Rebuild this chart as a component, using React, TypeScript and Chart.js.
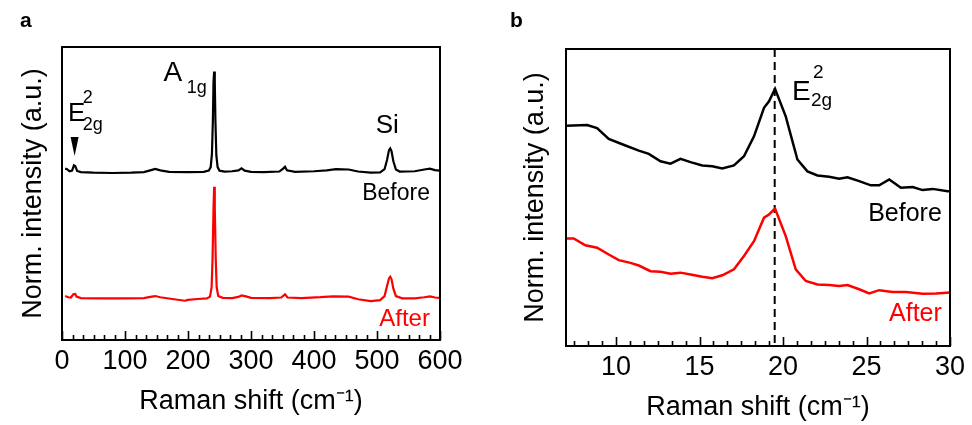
import React, { useEffect, useRef } from "react";
import { Chart, registerables } from "chart.js";

Chart.register(...registerables);

const FONT = "'Liberation Sans', Arial, Helvetica, sans-serif";
const RED = "#ff0000";

// ---------- Panel a (0–600 cm-1) ----------
const shiftBeforeA = [5, 8, 12, 16, 19, 21, 24, 30, 50, 80, 110, 130, 140, 148, 156, 170, 200, 225, 233, 236, 238, 239.5, 240.5, 241.5, 242.5, 243.5, 245, 247, 250, 258, 270, 280, 285, 290, 300, 320, 345, 351, 354, 357, 370, 400, 420, 435, 455, 470, 490, 505, 512, 516, 519, 521, 523, 526, 530, 536, 560, 575, 584, 592, 600];
const intensityBeforeA = [58.5, 58.3, 57.6, 57.8, 59.6, 59.4, 57.7, 57.3, 57.1, 57.0, 57.1, 57.3, 57.9, 58.4, 57.9, 57.4, 57.3, 57.4, 57.8, 59.0, 63.5, 75, 88, 91.6, 88, 75, 63, 59, 57.8, 57.5, 57.6, 57.9, 58.6, 57.8, 57.4, 57.3, 57.5, 58.5, 59.1, 57.9, 57.4, 57.6, 57.9, 58.3, 58.2, 57.5, 57.1, 57.2, 58.3, 61.5, 64.8, 65.4, 64.5, 61, 58.2, 57.5, 57.6, 58.2, 58.5, 58.0, 57.8];

const shiftAfterA = [5, 10, 14, 18, 21, 23, 30, 60, 100, 130, 140, 148, 156, 175, 195, 200, 215, 230, 235, 237.5, 239, 240.5, 241.5, 242.5, 244, 245.5, 248, 255, 270, 280, 285, 292, 300, 330, 348, 354, 358, 380, 410, 430, 455, 470, 490, 505, 512, 516, 519, 521, 523, 526, 530, 540, 560, 575, 584, 592, 600];
const intensityAfterA = [15.0, 14.6, 14.5, 15.6, 15.7, 14.8, 14.3, 14.2, 14.2, 14.3, 14.7, 15.0, 14.6, 14.0, 13.4, 13.7, 14.0, 14.2, 14.8, 18, 28, 45, 52.3, 45, 28, 18, 15.0, 14.4, 14.3, 14.7, 15.2, 14.9, 14.4, 14.3, 14.5, 15.6, 14.5, 14.3, 14.6, 14.9, 14.8, 13.9, 13.3, 13.6, 15, 18.5, 21, 21.6, 20.8, 17.5, 15.0, 14.2, 14.2, 14.6, 14.9, 14.5, 14.4];

const ticksA = [0, 100, 200, 300, 400, 500, 600];

// ---------- Panel b (7–30 cm-1) ----------
const shiftBeforeB = [7.0, 8.26, 8.86, 9.56, 10.56, 11.36, 11.96, 12.66, 13.26, 13.86, 14.46, 15.16, 15.76, 16.36, 17.06, 17.66, 18.26, 18.86, 19.16, 19.52, 20.16, 20.86, 21.46, 22.06, 22.76, 23.36, 23.86, 24.56, 25.26, 25.76, 26.36, 27.06, 27.76, 28.36, 28.96, 29.86, 30];
const intensityBeforeB = [74.2, 74.4, 73.4, 69.7, 67.5, 65.8, 64.7, 62.2, 61.4, 63.0, 61.9, 60.8, 60.5, 59.8, 60.8, 63.9, 70.6, 80.2, 82.4, 86.6, 77.3, 62.8, 58.8, 57.4, 57.0, 56.3, 56.8, 55.5, 54.1, 54.1, 56.1, 53.3, 53.5, 52.5, 52.9, 52.1, 52.1];

const shiftAfterB = [7.0, 7.46, 8.16, 8.86, 9.56, 10.16, 10.86, 11.36, 12.06, 12.66, 13.26, 13.86, 14.46, 15.16, 15.76, 16.36, 17.06, 17.66, 18.26, 18.86, 19.16, 19.52, 20.16, 20.76, 21.36, 22.06, 22.76, 23.36, 23.86, 24.56, 25.16, 25.76, 26.56, 27.36, 28.36, 29.16, 30];
const intensityAfterB = [36.2, 36.2, 33.9, 33.1, 30.8, 28.9, 28.0, 27.1, 25.2, 25.0, 24.3, 24.7, 24.1, 23.3, 22.8, 23.8, 25.8, 30.3, 35.3, 43.2, 44.3, 46.3, 37.0, 25.8, 21.9, 20.7, 20.5, 20.2, 20.5, 19.1, 17.7, 18.8, 18.2, 18.2, 17.6, 17.7, 18.0];

const ticksB = [10, 15, 20, 25, 30];
const peakB = 19.5;

const xTitle = "Raman shift (cm\u207B\u00B9)";
const yTitle = "Norm. intensity (a.u.)";

const toXY = (xs: number[], ys: number[]) => xs.map((x, i) => ({ x, y: ys[i] }));

function text(ctx: CanvasRenderingContext2D, s: string, x: number, y: number, size: number, color = "#000", align: CanvasTextAlign = "left", weight = "normal") {
  ctx.font = `${weight} ${size}px ${FONT}`;
  ctx.fillStyle = color;
  ctx.textAlign = align;
  ctx.textBaseline = "alphabetic";
  ctx.fillText(s, x, y);
}

function framePlugin(majors: number[], letter: string, drawExtra: (chart: any) => void) {
  return {
    id: "frame",
    afterDraw(chart: any) {
      const { ctx, chartArea: a } = chart;
      const xs = chart.scales.x;
      ctx.save();
      ctx.strokeStyle = "#000";
      ctx.lineWidth = 2;
      ctx.strokeRect(a.left, a.top, a.right - a.left, a.bottom - a.top);
      const step = majors[1] - majors[0];
      const minor = step / 6;
      const kStart = -Math.floor((majors[0] - xs.min) / minor + 1e-9);
      ctx.lineWidth = 1.6;
      for (let k = kStart; ; k++) {
        const v = majors[0] + k * minor;
        if (v > xs.max + 1e-9) break;
        const px = Math.round(xs.getPixelForValue(v)) + 0.5;
        const len = ((k % 6) + 6) % 6 === 0 ? 9 : 5;
        ctx.beginPath();
        ctx.moveTo(px, a.bottom);
        ctx.lineTo(px, a.bottom - len);
        ctx.stroke();
      }
      text(ctx, letter, 20, 27, 21, "#000", "left", "bold");
      drawExtra(chart);
      ctx.restore();
    },
  };
}

function baseOptions(xMin: number, xMax: number, majors: number[], pad: any, yTitlePad: any, xTitlePad: any) {
  return {
    responsive: false,
    animation: false as const,
    events: [],
    layout: { padding: pad },
    plugins: { legend: { display: false }, tooltip: { enabled: false } },
    scales: {
      x: {
        type: "linear" as const,
        min: xMin,
        max: xMax,
        afterBuildTicks: (s: any) => {
          s.ticks = majors.map((v) => ({ value: v }));
        },
        grid: { display: false, drawTicks: false },
        border: { display: false },
        ticks: { color: "#000", font: { family: FONT, size: 27 }, padding: 5.8, autoSkip: false, maxRotation: 0 },
        title: { display: true, text: xTitle, color: "#000", font: { family: FONT, size: 27 }, padding: xTitlePad },
      },
      y: {
        min: 0,
        max: 100,
        grid: { display: false, drawTicks: false },
        border: { display: false },
        ticks: { display: false },
        title: { display: true, text: yTitle, color: "#000", font: { family: FONT, size: 27 }, padding: yTitlePad },
      },
    },
  };
}

function PanelA() {
  const ref = useRef<HTMLCanvasElement>(null);
  useEffect(() => {
    const chart = new Chart(ref.current!, {
      type: "line",
      data: {
        datasets: [
          { data: toXY(shiftBeforeA, intensityBeforeA), borderColor: "#000", borderWidth: 2.2, pointRadius: 0, tension: 0, fill: false },
          { data: toXY(shiftAfterA, intensityAfterA), borderColor: RED, borderWidth: 2.2, pointRadius: 0, tension: 0, fill: false },
        ],
      },
      options: baseOptions(0, 600, ticksA, { left: 13.8, right: 50, top: 47, bottom: 2.8 }, { top: 4, bottom: 11.8 }, { top: 1.8, bottom: 4 }) as any,
      plugins: [
        framePlugin(ticksA, "a", (c: any) => {
          const { ctx } = c;
          const X = (v: number) => c.scales.x.getPixelForValue(v);
          const Y = (v: number) => c.scales.y.getPixelForValue(v);
          text(ctx, "A", X(161), Y(88.4), 28);
          text(ctx, "1g", X(198), Y(84.3), 18);
          text(ctx, "E", X(9.5), Y(74.7), 26);
          text(ctx, "2", X(33), Y(80.9), 18);
          text(ctx, "2g", X(33), Y(71.7), 18);
          text(ctx, "Si", X(498), Y(70.6), 26);
          text(ctx, "Before", X(584), Y(47.8), 23, "#000", "right");
          text(ctx, "After", X(584), Y(4.8), 24, RED, "right");
          // arrow marker at E2g
          const cx = X(20);
          ctx.fillStyle = "#000";
          ctx.beginPath();
          ctx.moveTo(cx - 4, Y(69.3));
          ctx.lineTo(cx + 4, Y(69.3));
          ctx.lineTo(cx, Y(62.8));
          ctx.closePath();
          ctx.fill();
        }),
      ],
    });
    return () => chart.destroy();
  }, []);
  return <canvas ref={ref} width={490} height={425} style={{ position: "absolute", left: 0, top: 0 }} />;
}

function PanelB() {
  const ref = useRef<HTMLCanvasElement>(null);
  useEffect(() => {
    const chart = new Chart(ref.current!, {
      type: "line",
      data: {
        datasets: [
          { data: toXY(shiftBeforeB, intensityBeforeB), borderColor: "#000", borderWidth: 2.5, pointRadius: 0, tension: 0, fill: false },
          { data: toXY(shiftAfterB, intensityAfterB), borderColor: RED, borderWidth: 2.5, pointRadius: 0, tension: 0, fill: false },
        ],
      },
      options: baseOptions(7, 30, ticksB, { left: 25.8, right: 22, top: 49, bottom: 0.8 }, { top: 4, bottom: 13.8 }, { top: 1.8, bottom: 0 }) as any,
      plugins: [
        {
          id: "dash",
          beforeDatasetsDraw(c: any) {
            const { ctx, chartArea: a } = c;
            const px = c.scales.x.getPixelForValue(peakB);
            ctx.save();
            ctx.strokeStyle = "#000";
            ctx.lineWidth = 2;
            ctx.setLineDash([8, 5]);
            ctx.beginPath();
            ctx.moveTo(px, a.top);
            ctx.lineTo(px, a.bottom);
            ctx.stroke();
            ctx.restore();
          },
        },
        framePlugin(ticksB, "b", (c: any) => {
          const { ctx } = c;
          const X = (v: number) => c.scales.x.getPixelForValue(v);
          const Y = (v: number) => c.scales.y.getPixelForValue(v);
          text(ctx, "E", X(20.53), Y(82.8), 28);
          text(ctx, "2", X(21.79), Y(90.2), 19);
          text(ctx, "2g", X(21.67), Y(80.8), 19);
          text(ctx, "Before", X(29.51), Y(42.1), 25, "#000", "right");
          text(ctx, "After", X(29.51), Y(8.4), 25, RED, "right");
        }),
      ],
    });
    return () => chart.destroy();
  }, []);
  return <canvas ref={ref} width={482} height={425} style={{ position: "absolute", left: 490, top: 0 }} />;
}

export default function App() {
  return (
    <div style={{ position: "fixed", left: 0, top: 0, width: 972, height: 425, background: "#fff", overflow: "hidden" }}>
      <PanelA />
      <PanelB />
    </div>
  );
}
